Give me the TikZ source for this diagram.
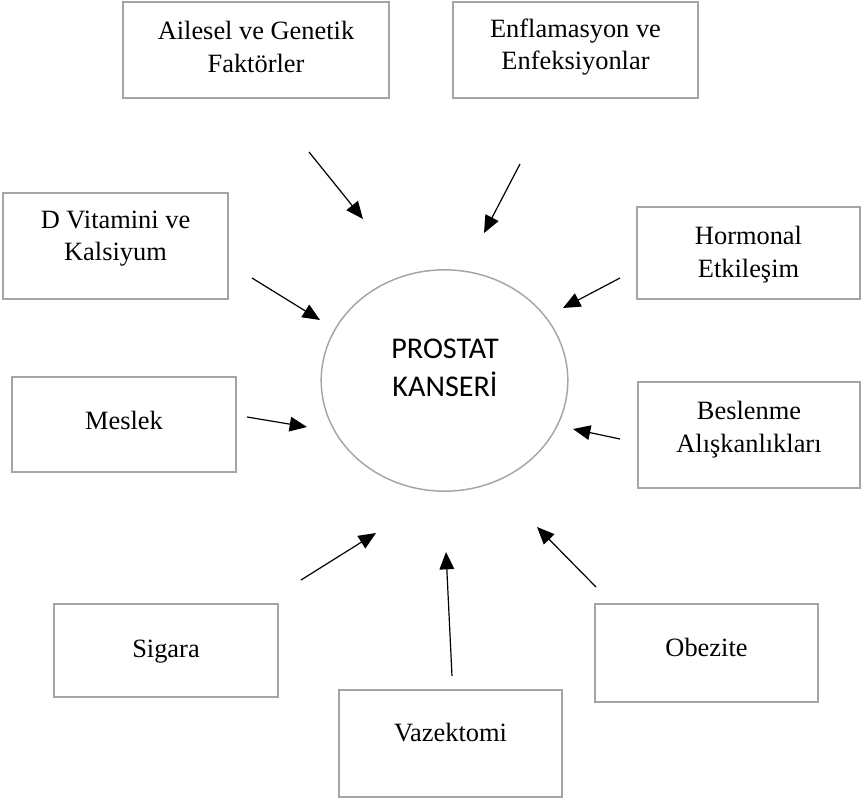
\documentclass[tikz,border=0pt]{standalone}
\usepackage{fontspec}
\setmainfont{Liberation Serif}
\newfontfamily\calibri{Carlito}
\usetikzlibrary{shapes.geometric,arrows.meta,fit}
\definecolor{boxgray}{HTML}{A5A5A5}
\tikzset{
  factorbox/.style={draw=boxgray, line width=1.5pt, inner sep=0pt, rectangle},
  factortext/.style={align=center, inner sep=0pt, font=\fontsize{19.8pt}{24.5pt}\selectfont},
  centretext/.style={align=center, inner sep=0pt, font=\calibri\fontsize{22.6pt}{28.8pt}\selectfont},
  infl/.style={line width=0.9pt, -{Triangle[length=13pt,width=11pt]}}
}
\begin{document}
\begin{tikzpicture}[x=0.75pt,y=-0.75pt]
\useasboundingbox (0,0) rectangle (863,803);
% central ellipse
\node[ellipse, draw=boxgray, line width=1.1pt, minimum width=185pt, minimum height=166pt, inner sep=0pt] (pc) at (444.5,380.5) {};
\node[centretext] (pctext) at (445,368) {PROSTAT\\KANSERİ};
% factor boxes
\node[factorbox, fit={(123,2)(389,98)}] (b1) {};
\node[factortext] (t1) at ([yshift=-34.5pt]b1.north) {Ailesel ve Genetik\\Faktörler};
\node[factorbox, fit={(453,2)(698,98)}] (b2) {};
\node[factortext] (t2) at ([yshift=-34.5pt]b2.north) {Enflamasyon ve\\Enfeksiyonlar};
\node[factorbox, fit={(3,193)(228,299)}] (b3) {};
\node[factortext] (t3) at ([yshift=-35pt]b3.north) {D Vitamini ve\\Kalsiyum};
\node[factorbox, fit={(637,207)(860,299)}] (b4) {};
\node[factortext] (t4) at ([yshift=-36.5pt]b4.north) {Hormonal\\Etkileşim};
\node[factorbox, fit={(12,377)(236,472)}] (b5) {};
\node[factortext] (t5) at ([yshift=-33pt]b5.north) {Meslek};
\node[factorbox, fit={(638,382)(860,488)}] (b6) {};
\node[factortext] (t6) at ([yshift=-36.5pt]b6.north) {Beslenme\\Alışkanlıkları};
\node[factorbox, fit={(54,604)(278,697)}] (b7) {};
\node[factortext] (t7) at ([yshift=-36.5pt]b7.north) {Sigara};
\node[factorbox, fit={(595,604)(818,702)}] (b8) {};
\node[factortext] (t8) at ([yshift=-33.5pt]b8.north) {Obezite};
\node[factorbox, fit={(339,690)(562,797)}] (b9) {};
\node[factortext] (t9) at ([yshift=-33pt]b9.north) {Vazektomi};
% arrow ends
\coordinate (s1) at (309,152); \coordinate (e1) at (363,219);
\coordinate (s2) at (520,164); \coordinate (e2) at (484,233);
\coordinate (s3) at (252,278); \coordinate (e3) at (320,320);
\coordinate (s4) at (620,278); \coordinate (e4) at (563,308);
\coordinate (s5) at (247,417); \coordinate (e5) at (307,427);
\coordinate (s6) at (620,439); \coordinate (e6) at (573,429);
\coordinate (s7) at (301,580); \coordinate (e7) at (376,533);
\coordinate (s8) at (452,676); \coordinate (e8) at (446,552);
\coordinate (s9) at (596,587); \coordinate (e9) at (537,527);
\foreach \i in {1,...,9} { \draw[infl] (s\i) -- (e\i); }
\end{tikzpicture}
\end{document}
